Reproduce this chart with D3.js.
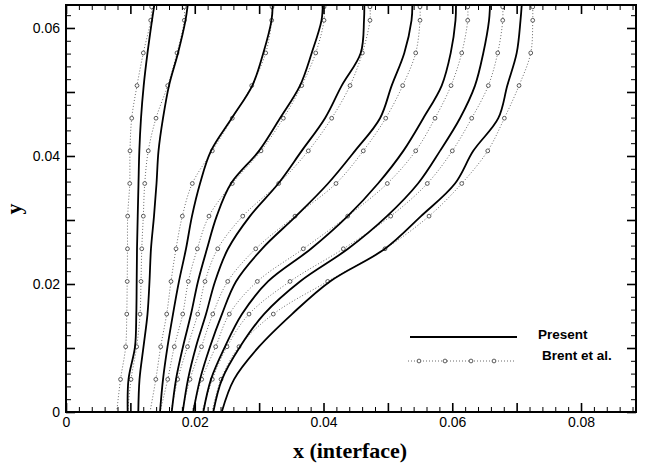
<!DOCTYPE html>
<html><head><meta charset="utf-8">
<script src="https://cdn.jsdelivr.net/npm/d3@7"></script>
<style>body{margin:0;background:#fff}svg{display:block}</style>
</head><body>
<svg id="c" width="650" height="465"></svg>
<script>
// ---- data ----
const brentY   = [0, 0.0051, 0.0102, 0.0153, 0.0204, 0.0255, 0.0306, 0.0357, 0.0408, 0.0459, 0.051, 0.0561, 0.0612, 0.0633];
const presentY = [0, 0.0051, 0.0102, 0.0153, 0.0204, 0.0255, 0.0306, 0.0357, 0.0408, 0.0459, 0.051, 0.0561, 0.0612, 0.0636];

const brent1 = [0.00788,0.00847,0.00927,0.00944,0.00951,0.00955,0.00958,0.00990,0.00994,0.01021,0.01103,0.01201,0.01316,0.01331];
const brent2 = [0.00958,0.01010,0.01098,0.01150,0.01165,0.01177,0.01201,0.01223,0.01278,0.01398,0.01580,0.01724,0.01838,0.01838];
const brent3 = [0.01305,0.01395,0.01471,0.01564,0.01631,0.01709,0.01807,0.01962,0.02273,0.02583,0.02885,0.03102,0.03195,0.03200];
const brent4 = [0.01460,0.01580,0.01682,0.01813,0.01900,0.02040,0.02221,0.02583,0.03029,0.03376,0.03661,0.03879,0.04008,0.04008];
const brent5 = [0.01631,0.01735,0.01887,0.02046,0.02159,0.02357,0.02745,0.03304,0.03764,0.04127,0.04412,0.04603,0.04722,0.04722];
const brent6 = [0.01802,0.01926,0.02105,0.02280,0.02512,0.02947,0.03557,0.04194,0.04618,0.04966,0.05230,0.05432,0.05499,0.05499];
const brent7 = [0.01957,0.02108,0.02325,0.02537,0.02972,0.03686,0.04376,0.04991,0.05432,0.05732,0.05981,0.06147,0.06240,0.06240];
const brent8 = [0.02113,0.02273,0.02501,0.02843,0.03480,0.04308,0.05044,0.05612,0.06001,0.06302,0.06560,0.06706,0.06784,0.06784];
const brent9 = [0.02268,0.02408,0.02687,0.03220,0.04065,0.04955,0.05639,0.06147,0.06551,0.06809,0.07037,0.07219,0.07250,0.07250];

const present1 = [0.00958,0.00971,0.01072,0.01092,0.01098,0.01103,0.01114,0.01126,0.01139,0.01165,0.01207,0.01266,0.01336,0.01372];
const present2 = [0.01123,0.01142,0.01204,0.01266,0.01297,0.01320,0.01367,0.01406,0.01437,0.01507,0.01600,0.01740,0.01856,0.01891];
const present3 = [0.01460,0.01507,0.01577,0.01662,0.01755,0.01864,0.01957,0.02082,0.02252,0.02574,0.02894,0.03065,0.03192,0.03211];
const present4 = [0.01642,0.01709,0.01817,0.01942,0.02050,0.02190,0.02341,0.02563,0.02998,0.03324,0.03635,0.03817,0.03969,0.03988];
const present5 = [0.01813,0.01895,0.02019,0.02175,0.02315,0.02517,0.02858,0.03298,0.03661,0.04023,0.04283,0.04578,0.04629,0.04634];
const present6 = [0.01977,0.02082,0.02237,0.02423,0.02641,0.03045,0.03573,0.04070,0.04489,0.04878,0.05059,0.05255,0.05367,0.05380];
const present7 = [0.02133,0.02252,0.02470,0.02734,0.03138,0.03806,0.04376,0.04847,0.05240,0.05550,0.05836,0.05976,0.06050,0.06058];
const present8 = [0.02288,0.02423,0.02703,0.03076,0.03635,0.04381,0.04986,0.05468,0.05810,0.06120,0.06353,0.06482,0.06571,0.06586];
const present9 = [0.02419,0.02610,0.02998,0.03511,0.04101,0.04955,0.05515,0.06043,0.06327,0.06715,0.06855,0.07001,0.07060,0.07079];

const brentSeries   = [brent1, brent2, brent3, brent4, brent5, brent6, brent7, brent8, brent9];
const presentSeries = [present1, present2, present3, present4, present5, present6, present7, present8, present9];

const xMajor = [0, 0.01, 0.02, 0.03, 0.04, 0.05, 0.06, 0.07, 0.08];
const yMajor = [0, 0.01, 0.02, 0.03, 0.04, 0.05, 0.06];
const xTickLabels = ["0", "", "0.02", "", "0.04", "", "0.06", "", "0.08"];
const yTickLabels = ["0", "", "0.02", "", "0.04", "", "0.06"];
const legendLabels = ["Present", "Brent et al."];

// ---- layout ----
const L = 66, R = 636, T = 5, B = 412;
const x = d3.scaleLinear().domain([0, 0.08854]).range([L, R]);
const y = d3.scaleLinear().domain([0, 0.06359]).range([B, T]);
const svg = d3.select("#c");

svg.append("defs").append("clipPath").attr("id", "clip")
  .append("rect").attr("x", L).attr("y", T).attr("width", R - L).attr("height", B - T);

const plot = svg.append("g").attr("clip-path", "url(#clip)");
const line = d3.line().x(d => x(d[0])).y(d => y(d[1])).curve(d3.curveCatmullRom.alpha(0.5));

brentSeries.forEach(s => {
  const pts = s.map((v, i) => [v, brentY[i]]);
  plot.append("path").attr("d", line(pts)).attr("fill", "none")
    .attr("stroke", "#444").attr("stroke-width", 0.8).attr("stroke-dasharray", "1,2");
  plot.selectAll(null).data(pts.slice(1)).enter().append("circle")
    .attr("cx", d => x(d[0])).attr("cy", d => y(d[1])).attr("r", 1.9)
    .attr("fill", "#fff").attr("stroke", "#333").attr("stroke-width", 0.8);
});
presentSeries.forEach(s => {
  const pts = s.map((v, i) => [v, presentY[i]]);
  plot.append("path").attr("d", line(pts)).attr("fill", "none")
    .attr("stroke", "#000").attr("stroke-width", 1.8);
});

// ---- axes ----
const xMinor = d3.range(0, 0.0885, 0.002).filter(v => Math.abs(v * 100 - Math.round(v * 100)) > 1e-6);
const yMinor = d3.range(0, 0.0636, 0.002).filter(v => Math.abs(v * 100 - Math.round(v * 100)) > 1e-6);
const fx = d => xTickLabels[xMajor.findIndex(t => Math.abs(t - d) < 1e-9)] || "";
const fy = d => yTickLabels[yMajor.findIndex(t => Math.abs(t - d) < 1e-9)] || "";

function styleAxis(g, w) {
  g.select(".domain").remove();
  g.selectAll("line").attr("stroke", "#000").attr("stroke-width", w);
  g.selectAll("text").attr("font-family", "Liberation Sans, Arial, sans-serif")
    .attr("font-size", 14).attr("fill", "#000");
}
svg.append("g").attr("transform", `translate(0,${B})`)
  .call(d3.axisBottom(x).tickValues(xMinor).tickSize(-5).tickFormat("")).call(g => styleAxis(g, 1));
svg.append("g").attr("transform", `translate(0,${B})`)
  .call(d3.axisBottom(x).tickValues(xMajor).tickSize(-9).tickPadding(5).tickFormat(fx)).call(g => styleAxis(g, 1.6));
svg.append("g").attr("transform", `translate(0,${T})`)
  .call(d3.axisTop(x).tickValues(xMinor).tickSize(-5).tickFormat("")).call(g => styleAxis(g, 1));
svg.append("g").attr("transform", `translate(0,${T})`)
  .call(d3.axisTop(x).tickValues(xMajor).tickSize(-9).tickFormat("")).call(g => styleAxis(g, 1.6));
svg.append("g").attr("transform", `translate(${L},0)`)
  .call(d3.axisLeft(y).tickValues(yMinor).tickSize(-5).tickFormat("")).call(g => styleAxis(g, 1));
svg.append("g").attr("transform", `translate(${L},0)`)
  .call(d3.axisLeft(y).tickValues(yMajor).tickSize(-9).tickPadding(6).tickFormat(fy)).call(g => styleAxis(g, 1.6));
svg.append("g").attr("transform", `translate(${R},0)`)
  .call(d3.axisRight(y).tickValues(yMinor).tickSize(-5).tickFormat("")).call(g => styleAxis(g, 1));
svg.append("g").attr("transform", `translate(${R},0)`)
  .call(d3.axisRight(y).tickValues(yMajor).tickSize(-9).tickFormat("")).call(g => styleAxis(g, 1.6));

svg.append("rect").attr("x", L).attr("y", T).attr("width", R - L).attr("height", B - T)
  .attr("fill", "none").attr("stroke", "#000").attr("stroke-width", 2);

// axis titles
svg.append("text").attr("x", 350).attr("y", 458).attr("text-anchor", "middle")
  .attr("font-family", "Liberation Serif, Times New Roman, serif").attr("font-weight", "bold")
  .attr("font-size", 22).text("x (interface)");
svg.append("text").attr("transform", "translate(21,209) rotate(-90)").attr("text-anchor", "middle")
  .attr("font-family", "Liberation Serif, Times New Roman, serif").attr("font-weight", "bold")
  .attr("font-size", 22).text("y");

// legend
const lg = svg.append("g");
lg.append("line").attr("x1", 410).attr("x2", 517).attr("y1", 337).attr("y2", 337)
  .attr("stroke", "#000").attr("stroke-width", 1.8);
lg.append("line").attr("x1", 408).attr("x2", 515).attr("y1", 361).attr("y2", 361)
  .attr("stroke", "#444").attr("stroke-width", 0.8).attr("stroke-dasharray", "1,2");
[419, 445, 471, 494].forEach(cx => lg.append("circle").attr("cx", cx).attr("cy", 361).attr("r", 1.9)
  .attr("fill", "#fff").attr("stroke", "#333").attr("stroke-width", 0.8));
lg.append("text").attr("x", 538).attr("y", 339).text(legendLabels[0]);
lg.append("text").attr("x", 542).attr("y", 360).text(legendLabels[1]);
lg.selectAll("text").attr("font-family", "Liberation Sans, Arial, sans-serif")
  .attr("font-weight", "bold").attr("font-size", 13.5);
</script>
</body></html>
